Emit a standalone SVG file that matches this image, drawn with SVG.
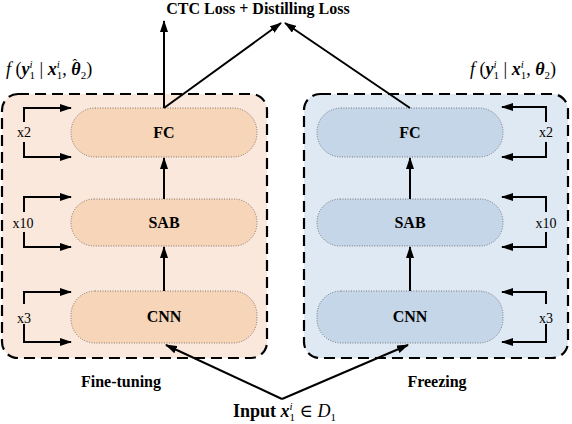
<svg xmlns="http://www.w3.org/2000/svg" width="572" height="424" viewBox="0 0 572 424">
<style>
.outer{stroke:#000;stroke-width:2.2;stroke-dasharray:11 6}
.node{stroke:#333;stroke-width:0.6;stroke-dasharray:1 1.5}
.lbl{font-family:'Liberation Serif','Times New Roman','DejaVu Serif',serif;font-weight:bold;font-size:16px;text-anchor:middle;fill:#000}
.rep{font-family:'Liberation Serif','Times New Roman','DejaVu Serif',serif;font-size:14px;text-anchor:middle;fill:#000}
.math{font-family:'Liberation Serif','Times New Roman','DejaVu Serif',serif;font-size:18px;fill:#000}
.ln{stroke:#000;stroke-width:2;fill:none}
.lp{stroke:#000;stroke-width:2;fill:none}
</style>
<defs>
<marker id="ah" viewBox="0 0 12 8" refX="11" refY="4" markerWidth="6" markerHeight="4" orient="auto" markerUnits="strokeWidth">
<path d="M0,0 L12,4 L0,8 z" fill="#000"/>
</marker>
</defs>

<g id="finetune-box">
<rect class="outer" x="2" y="94" width="265" height="264" rx="16" fill="#FBE8DC"/>
<text class="lbl" x="121" y="387" font-size="15">Fine-tuning</text>
</g>
<g id="freeze-box">
<rect class="outer" x="304" y="94" width="264" height="264" rx="16" fill="#DFE9F3"/>
<text class="lbl" x="437" y="387" font-size="15">Freezing</text>
</g>

<g id="fc-left"><rect class="node" x="71" y="108" width="186" height="49" rx="24" fill="#F6D5B8"/><text class="lbl" x="164" y="138">FC</text></g>
<g id="sab-left"><rect class="node" x="71" y="199" width="186" height="47" rx="23" fill="#F6D5B8"/><text class="lbl" x="164" y="228">SAB</text></g>
<g id="cnn-left"><rect class="node" x="71" y="291" width="186" height="52" rx="24" fill="#F6D5B8"/><text class="lbl" x="164" y="322">CNN</text></g>

<g id="fc-right"><rect class="node" x="317" y="108" width="186" height="49" rx="24" fill="#C4D6E8"/><text class="lbl" x="410" y="138">FC</text></g>
<g id="sab-right"><rect class="node" x="317" y="199" width="186" height="47" rx="23" fill="#C4D6E8"/><text class="lbl" x="410" y="228">SAB</text></g>
<g id="cnn-right"><rect class="node" x="317" y="291" width="186" height="52" rx="24" fill="#C4D6E8"/><text class="lbl" x="410" y="322">CNN</text></g>

<g id="loops">
<path class="lp" d="M24,122 V108 H71" marker-end="url(#ah)"/>
<path class="lp" d="M24,142 V157 H71" marker-end="url(#ah)"/>
<text class="rep" x="24" y="137">x2</text>
<path class="lp" d="M24,212 V197 H71" marker-end="url(#ah)"/>
<path class="lp" d="M24,232 V247 H71" marker-end="url(#ah)"/>
<text class="rep" x="23" y="228">x10</text>
<path class="lp" d="M24,304 V292 H71" marker-end="url(#ah)"/>
<path class="lp" d="M24,324 V342 H71" marker-end="url(#ah)"/>
<text class="rep" x="24" y="323">x3</text>

<path class="lp" d="M546,122 V107 H502" marker-end="url(#ah)"/>
<path class="lp" d="M546,142 V157 H502" marker-end="url(#ah)"/>
<text class="rep" x="546" y="137">x2</text>
<path class="lp" d="M546,212 V197 H502" marker-end="url(#ah)"/>
<path class="lp" d="M546,232 V247 H502" marker-end="url(#ah)"/>
<text class="rep" x="546" y="228">x10</text>
<path class="lp" d="M546,304 V292 H502" marker-end="url(#ah)"/>
<path class="lp" d="M546,324 V342 H502" marker-end="url(#ah)"/>
<text class="rep" x="546" y="323">x3</text>
</g>

<g id="connectors">
<line class="ln" x1="164" y1="199" x2="164" y2="158" marker-end="url(#ah)"/>
<line class="ln" x1="164" y1="291" x2="164" y2="247" marker-end="url(#ah)"/>
<line class="ln" x1="410" y1="199" x2="410" y2="158" marker-end="url(#ah)"/>
<line class="ln" x1="410" y1="291" x2="410" y2="247" marker-end="url(#ah)"/>
<line class="ln" x1="164" y1="108" x2="164" y2="21" marker-end="url(#ah)"/>
<line class="ln" x1="164" y1="108" x2="281" y2="23" marker-end="url(#ah)"/>
<line class="ln" x1="410" y1="108" x2="285" y2="23" marker-end="url(#ah)"/>
<polyline class="ln" points="282,399 166,345" marker-end="url(#ah)"/>
<polyline class="ln" points="282,399 408,345" marker-end="url(#ah)"/>
</g>

<g id="top-label"><text class="lbl" x="258" y="14">CTC Loss + Distilling Loss</text></g>

<g id="formula-left">
<text class="math" x="6" y="75"><tspan font-style="italic">f</tspan><tspan> (</tspan><tspan font-style="italic" font-weight="bold">y</tspan><tspan font-style="italic" font-size="11" dy="-7">i</tspan><tspan font-size="11" dx="-3" dy="11">1</tspan><tspan dy="-4"> | </tspan><tspan font-style="italic" font-weight="bold">x</tspan><tspan font-style="italic" font-size="11" dy="-7">i</tspan><tspan font-size="11" dx="-3" dy="11">1</tspan><tspan dy="-4">, </tspan><tspan font-style="italic" font-weight="bold">θ</tspan><tspan font-size="14" dx="-8" dy="-6">ˆ</tspan><tspan font-size="11" dx="3.5" dy="10">2</tspan><tspan dy="-4">)</tspan></text>
</g>
<g id="formula-right">
<text class="math" x="470" y="75"><tspan font-style="italic">f</tspan><tspan> (</tspan><tspan font-style="italic" font-weight="bold">y</tspan><tspan font-style="italic" font-size="11" dy="-7">i</tspan><tspan font-size="11" dx="-3" dy="11">1</tspan><tspan dy="-4"> | </tspan><tspan font-style="italic" font-weight="bold">x</tspan><tspan font-style="italic" font-size="11" dy="-7">i</tspan><tspan font-size="11" dx="-3" dy="11">1</tspan><tspan dy="-4">, </tspan><tspan font-style="italic" font-weight="bold">θ</tspan><tspan font-size="11" dy="4">2</tspan><tspan dy="-4">)</tspan></text>
</g>

<g id="input-label">
<text class="math" x="233" y="417" font-size="16"><tspan font-weight="bold">Input </tspan><tspan font-style="italic" font-weight="bold">x</tspan><tspan font-style="italic" font-size="11" dy="-7">i</tspan><tspan font-size="11" dx="-3" dy="11">1</tspan><tspan dy="-4"> ∈ </tspan><tspan font-style="italic">D</tspan><tspan font-size="11" dy="4">1</tspan></text>
</g>
</svg>
